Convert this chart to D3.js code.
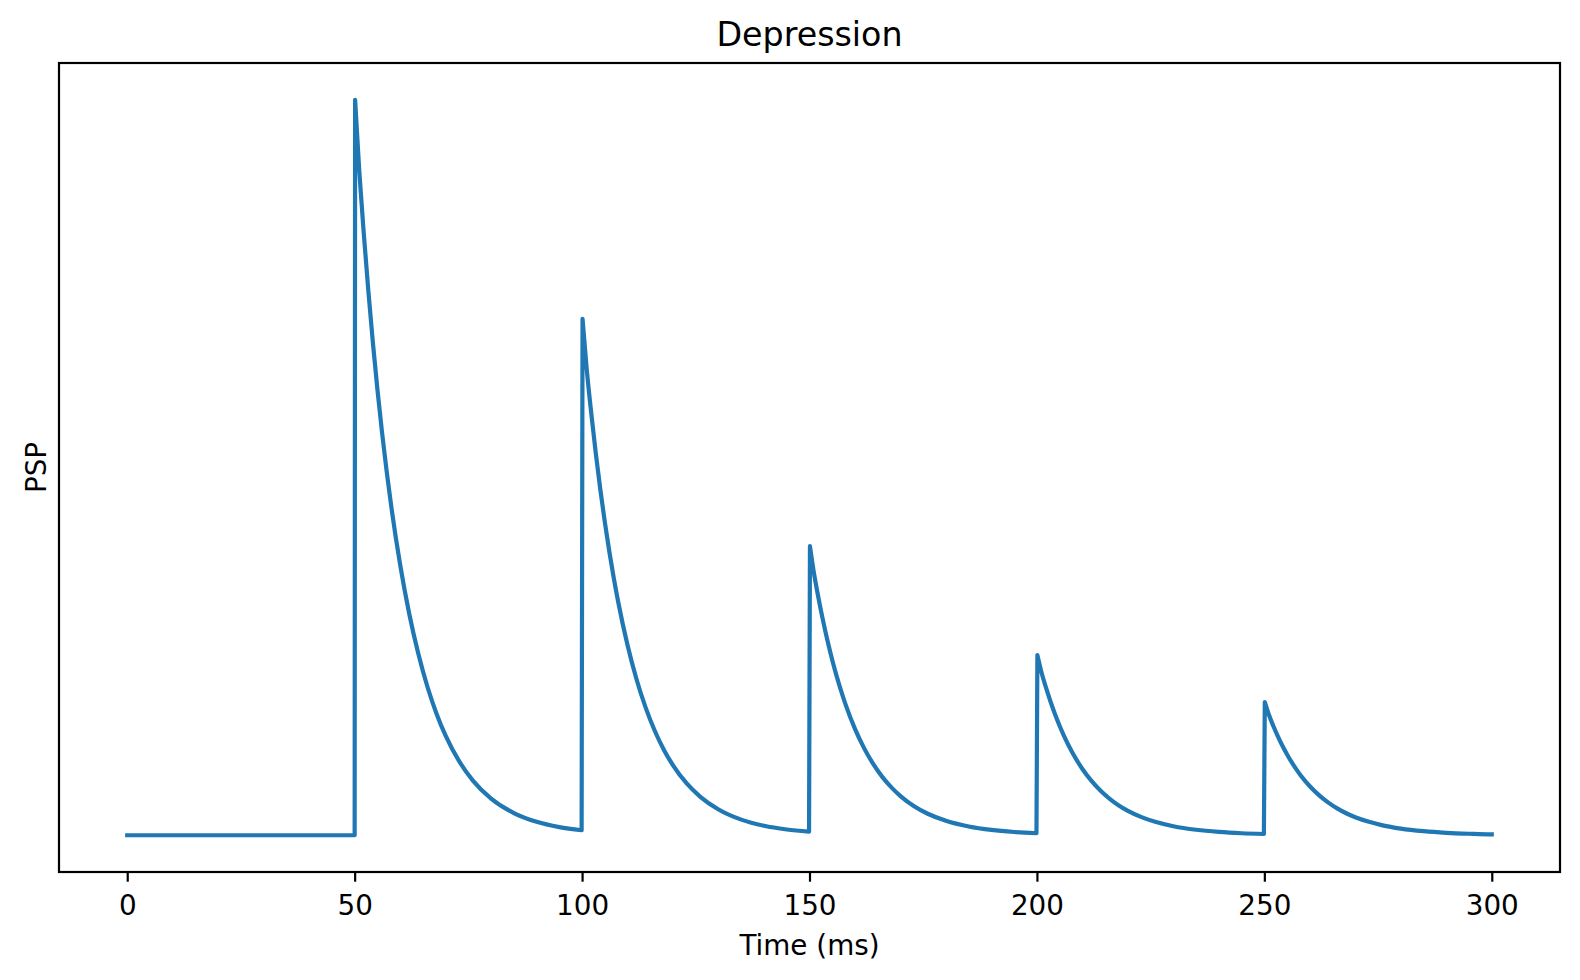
<!DOCTYPE html>
<html>
<head>
<meta charset="utf-8">
<script src="https://cdn.jsdelivr.net/npm/d3@7"></script>
<style>
  html, body { margin: 0; padding: 0; background: #ffffff; }
  svg { display: block; }
  text { font-family: "DejaVu Sans", sans-serif; fill: #000; }
</style>
</head>
<body>
<svg id="chart" width="1580" height="980"></svg>
<script>
// ---- Data (time in ms, PSP in arbitrary units) ----
const chartTitle = "Depression";
const xLabel = "Time (ms)";
const yLabel = "PSP";
const xTicks = [0, 50, 100, 150, 200, 250, 300];

// baseline before first spike
const baselineT = [0, 50];
const baselineV = [0, 0];

// spike times and the peak PSP right after each spike
const spikeTimes = [50, 100, 150, 200, 250];
const spikePeaks = [1.000, 0.702, 0.393, 0.245, 0.181];

// time offsets (ms after spike) of the points read along each decay
const decayOffsets = [0.1, 1, 2, 3, 4, 5, 6, 7, 8, 10, 12, 14, 16, 18, 20, 23, 26, 30, 35, 40, 45, 49.9];

// PSP values read along each decay
const decay1 = [1.000, 0.9048, 0.8187, 0.7408, 0.6703, 0.6065, 0.5488, 0.4966, 0.4493, 0.3679, 0.3012, 0.2466, 0.2019, 0.1653, 0.1353, 0.1003, 0.0743, 0.0498, 0.0302, 0.0183, 0.0111, 0.0068];
const decay2 = [0.702, 0.6352, 0.5747, 0.5200, 0.4706, 0.4258, 0.3853, 0.3486, 0.3154, 0.2583, 0.2114, 0.1731, 0.1417, 0.1160, 0.0950, 0.0704, 0.0522, 0.0350, 0.0212, 0.0128, 0.0078, 0.0048];
const decay3 = [0.393, 0.3556, 0.3218, 0.2911, 0.2634, 0.2383, 0.2157, 0.1952, 0.1766, 0.1446, 0.1184, 0.0969, 0.0793, 0.0650, 0.0532, 0.0394, 0.0292, 0.0196, 0.0119, 0.0072, 0.0044, 0.0027];
const decay4 = [0.245, 0.2217, 0.2006, 0.1815, 0.1642, 0.1486, 0.1345, 0.1217, 0.1101, 0.0901, 0.0738, 0.0604, 0.0495, 0.0405, 0.0331, 0.0246, 0.0182, 0.0122, 0.0074, 0.0045, 0.0027, 0.0017];
const decay5 = [0.181, 0.1638, 0.1482, 0.1341, 0.1213, 0.1098, 0.0993, 0.0899, 0.0813, 0.0666, 0.0545, 0.0446, 0.0365, 0.0299, 0.0245, 0.0182, 0.0134, 0.0090, 0.0055, 0.0033, 0.0020, 0.0012];
const decays = [decay1, decay2, decay3, decay4, decay5];
const endTime = 300;

// ---- Layout ----
const svg = d3.select("#chart");
const L = 59, R = 1560, T = 63, B = 872;

const x = d3.scaleLinear().domain([-15, 315]).range([L, R]);
const y = d3.scaleLinear().domain([-0.05, 1.05]).range([B, T]);

svg.append("defs").append("clipPath").attr("id", "clip")
  .append("rect").attr("x", L).attr("y", T).attr("width", R - L).attr("height", B - T);

// straight pieces (baseline + vertical rises) and smooth pieces (decays)
const linear = d3.line().x(d => x(d[0])).y(d => y(d[1]));
const smooth = d3.line().x(d => x(d[0])).y(d => y(d[1])).curve(d3.curveMonotoneX);

let pathD = linear(baselineT.map((t, i) => [t, baselineV[i]]));
spikeTimes.forEach((s, k) => {
  const seg = decayOffsets.map((o, i) => [s + o, decays[k][i]]);
  if (k === spikeTimes.length - 1) seg.push([endTime, decays[k][decays[k].length - 1]]);
  // vertical rise to the peak, then the smooth decay (its M turned into L)
  pathD += smooth(seg).replace(/^M/, "L");
});

svg.append("path")
  .attr("clip-path", "url(#clip)")
  .attr("fill", "none")
  .attr("stroke", "#1f77b4")
  .attr("stroke-width", 4.2)
  .attr("stroke-linejoin", "round")
  .attr("stroke-linecap", "square")
  .attr("d", pathD);

// x axis
const xAxis = d3.axisBottom(x).tickValues(xTicks).tickSize(9.7).tickPadding(9).tickFormat(d3.format("d"));
const gx = svg.append("g").attr("transform", `translate(0,${B})`).call(xAxis);
gx.select(".domain").remove();
gx.selectAll(".tick line").attr("stroke", "#000").attr("stroke-width", 2.2);
gx.selectAll(".tick text")
  .attr("font-family", "DejaVu Sans")
  .attr("font-size", 27.8)
  .attr("fill", "#000")
  .attr("dy", null)
  .attr("y", 43);

// frame
svg.append("rect")
  .attr("x", L).attr("y", T).attr("width", R - L).attr("height", B - T)
  .attr("fill", "none").attr("stroke", "#000").attr("stroke-width", 2.2);

// title
svg.append("text")
  .attr("x", (L + R) / 2).attr("y", 46)
  .attr("text-anchor", "middle")
  .attr("font-size", 33.3)
  .text(chartTitle);

// x label
svg.append("text")
  .attr("x", (L + R) / 2).attr("y", 955)
  .attr("text-anchor", "middle")
  .attr("font-size", 27.8)
  .text(xLabel);

// y label
svg.append("text")
  .attr("transform", `translate(46,${(T + B) / 2}) rotate(-90)`)
  .attr("text-anchor", "middle")
  .attr("font-size", 27.8)
  .text(yLabel);
</script>
</body>
</html>
